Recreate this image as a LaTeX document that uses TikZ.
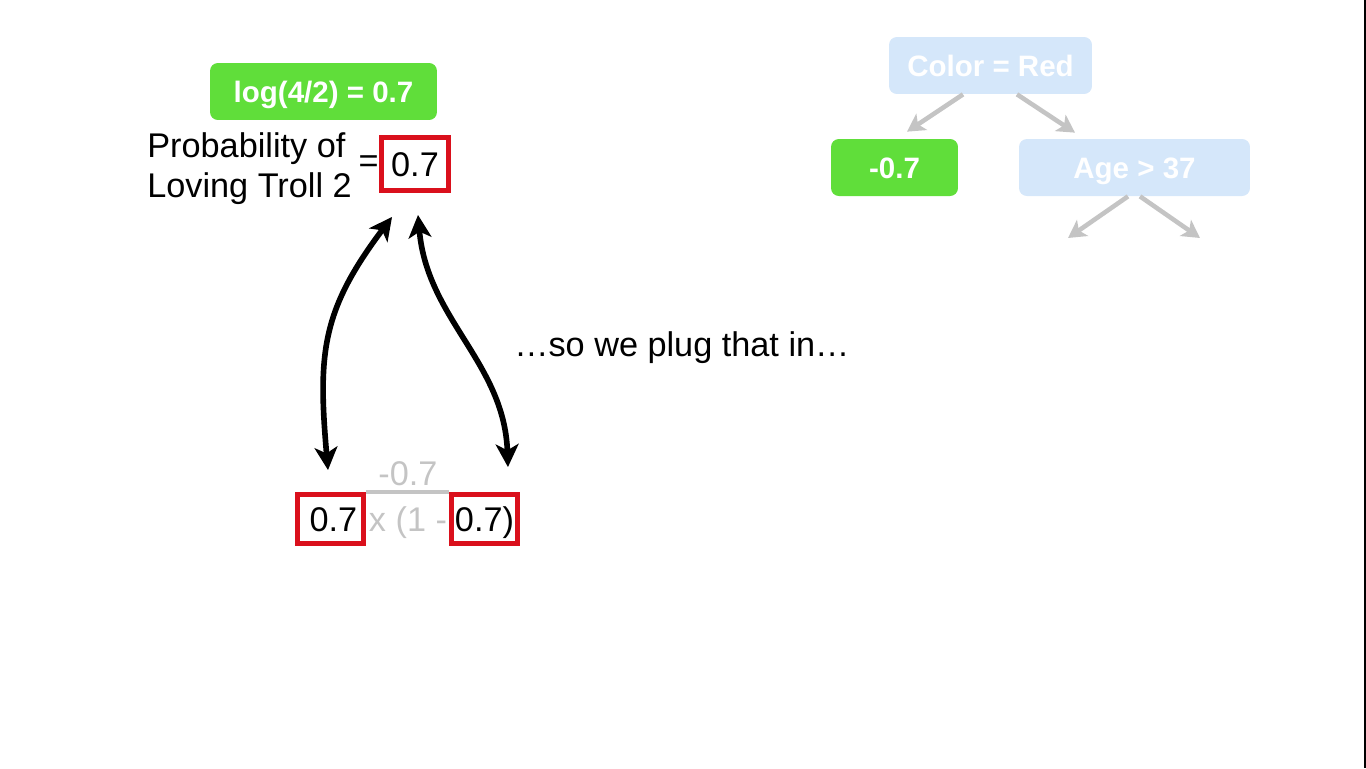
\documentclass[tikz,border=0pt]{standalone}
\usepackage{fontspec}
\setmainfont{Liberation Sans}
\usepackage{tikz}
\usetikzlibrary{arrows.meta}

\definecolor{leafgreen}{RGB}{96,222,58}
\definecolor{boxred}{RGB}{218,16,28}
\definecolor{fadeblue}{RGB}{213,231,250}
\definecolor{fadegray}{RGB}{196,196,196}

\tikzset{
  bigtext/.style={font=\fontsize{19.5}{22.7}\selectfont},
  greenbox/.style={fill=leafgreen, rounded corners=4.5pt, text=white,
    font=\fontsize{16.8}{20}\selectfont\bfseries, minimum height=1.14cm,
    text height=12.1pt, text depth=0pt},
  fadebox/.style={greenbox, fill=fadeblue},
  redbox/.style={draw=boxred, line width=2.8pt, bigtext, text height=14pt,
    text depth=0pt, inner sep=0pt},
  twoway/.style={{Stealth[length=13pt,width=13pt,inset=3.5pt]}-{Stealth[length=13pt,width=13pt,inset=3.5pt]},
    line width=3.2pt},
  treearrow/.style={-{Stealth[length=10pt,width=11pt,inset=2.5pt]}, line width=2.6pt, fadegray}
}

\begin{document}
\begin{tikzpicture}[x=0.02cm,y=-0.02cm]
    \useasboundingbox (0,0) rectangle (1366,768);
    % Dark strip at the right edge
    \fill[black] (1364,0) rectangle (1366,768);

    % Log odds and probability
    \node[greenbox, minimum width=4.54cm] (logodds) at (323.5,91.5) {log(4/2) = 0.7};
    \node[bigtext, align=left, anchor=west, inner sep=0pt] (prob) at (147,169) {Probability of\\Loving Troll 2};
    \node[redbox, minimum width=1.34cm, minimum height=1.06cm] (pt) at (415,164) {0.7};
    \node[bigtext, anchor=east, inner sep=0pt] (eq) at (pt.west) {=};

    % Bottom formula
    \node[redbox, minimum width=1.32cm, minimum height=0.98cm] (b1) at (330.5,519) {\,0.7};
    \node[redbox, minimum width=1.32cm, minimum height=0.98cm] (b2) at (484.5,519) {0.7)};
    \node[bigtext, text=fadegray, anchor=base] (mid) at (408,531) {x (1 -};
    \node[bigtext, text=fadegray, anchor=base] (num) at (408,485) {-0.7};
    \draw[fadegray, line width=2.3pt] (b1.north east) -- (b2.north west);

    % Plug-in arrows
    \draw[twoway] ([xshift=-0.05cm,yshift=0.44cm]b1.north) to[out=95,in=233,looseness=1.15]
        ([xshift=0.26cm,yshift=-0.48cm]pt.south west);
    \draw[twoway] ([xshift=0.06cm,yshift=-0.44cm]pt.south) to[out=275,in=92]
        ([xshift=-0.24cm,yshift=0.5cm]b2.north east);
    \node[bigtext, anchor=west, inner sep=0pt] (plug) at (514,348) {…so we plug that in…};

    % Faded tree
    \node[fadebox, minimum width=4.06cm] (color) at (990.5,65.5) {Color = Red};
    \node[greenbox, minimum width=2.54cm] (leaf) at (894.5,167.5) {-0.7};
    \node[fadebox, minimum width=4.62cm] (age) at (1134.5,167.5) {Age > 37};
    \coordinate (ageyes) at (1068,238);
    \coordinate (ageno) at (1200,238);
    \draw[treearrow] ([xshift=-0.55cm]color.south) -- ([xshift=0.25cm,yshift=0.14cm]leaf.north);
    \draw[treearrow] ([xshift=0.53cm]color.south) -- ([xshift=-1.19cm,yshift=0.12cm]age.north);
    \draw[treearrow] ([xshift=-0.13cm]age.south) -- (ageyes);
    \draw[treearrow] ([xshift=0.11cm]age.south) -- (ageno);
\end{tikzpicture}
\end{document}
